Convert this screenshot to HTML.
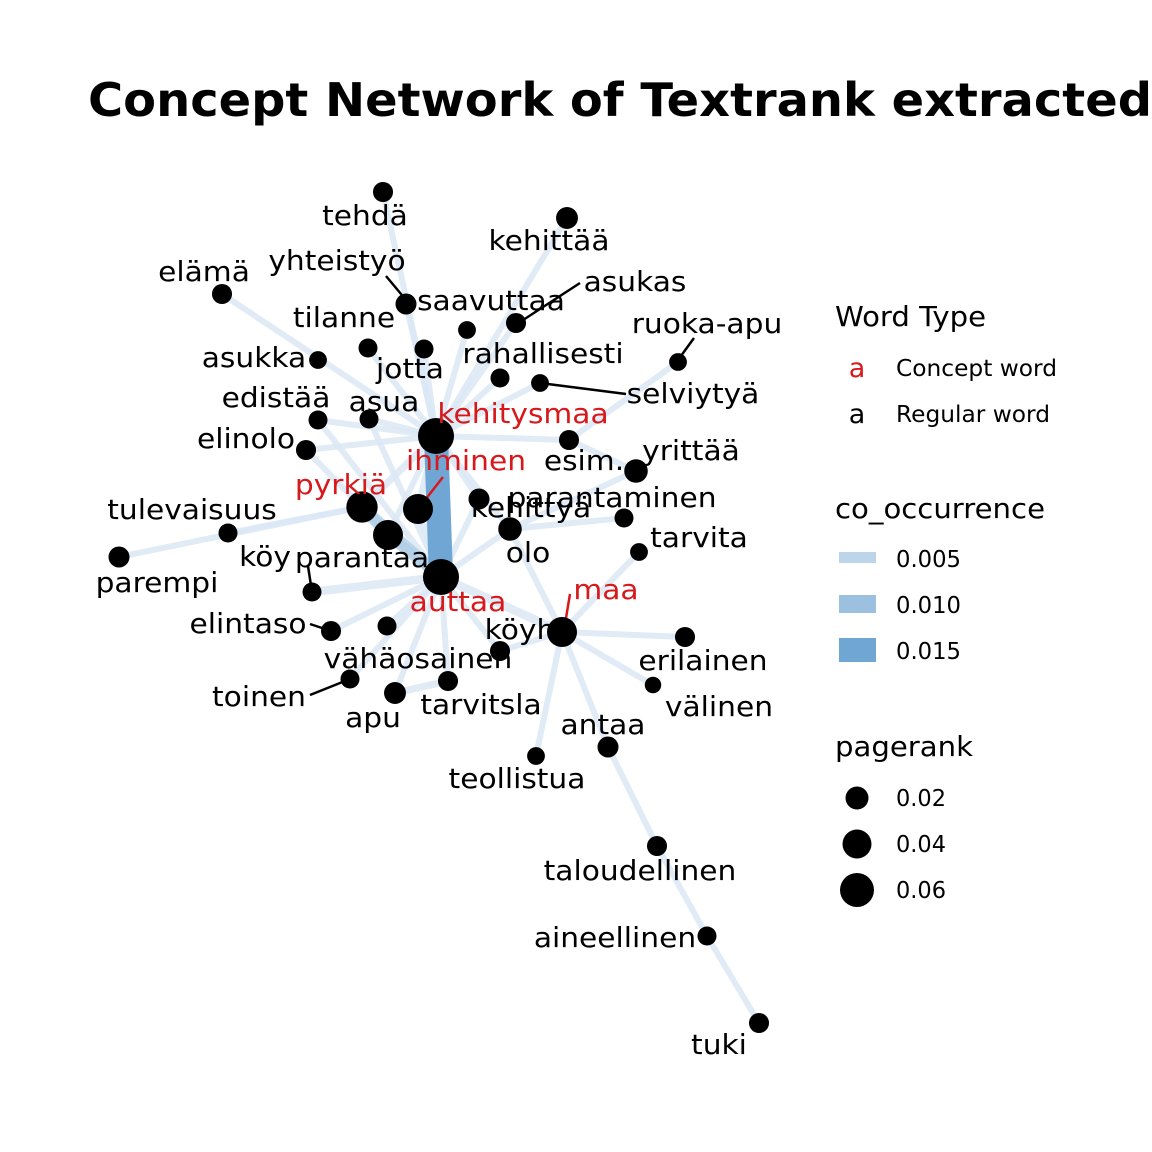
<!DOCTYPE html>
<html><head><meta charset="utf-8"><style>
html,body{margin:0;padding:0;background:#fff;}
svg{display:block;font-family:"DejaVu Sans","Liberation Sans",sans-serif;}
</style></head><body>
<svg id="chart" width="1152" height="1152" viewBox="0 0 1152 1152" xmlns="http://www.w3.org/2000/svg">
<rect width="1152" height="1152" fill="#fff"/>
<text x="88" y="116" font-size="46" font-weight="bold" textLength="1064" lengthAdjust="spacingAndGlyphs">Concept Network of Textrank extracted</text>
<g id="edges"></g>
<g id="leaders"></g>
<g id="nodes"></g>
<g id="labels"></g>
<g font-size="23">
  <text x="835" y="326" font-size="28" textLength="151" lengthAdjust="spacingAndGlyphs">Word Type</text>
  <text x="857" y="377" text-anchor="middle" font-size="27" fill="#d7191c">a</text>
  <text x="896" y="376" textLength="161" lengthAdjust="spacingAndGlyphs">Concept word</text>
  <text x="857" y="423" text-anchor="middle" font-size="27">a</text>
  <text x="896" y="422" textLength="154" lengthAdjust="spacingAndGlyphs">Regular word</text>
  <text x="835" y="518" font-size="28" textLength="210" lengthAdjust="spacingAndGlyphs">co_occurrence</text>
  <rect x="839" y="552" width="37" height="11" fill="#bcd5ea"/>
  <text x="896" y="567" textLength="65" lengthAdjust="spacingAndGlyphs">0.005</text>
  <rect x="839" y="595" width="37" height="18" fill="#9bc0e0"/>
  <text x="896" y="613" textLength="65" lengthAdjust="spacingAndGlyphs">0.010</text>
  <rect x="839" y="638" width="37" height="24" fill="#70a6d4"/>
  <text x="896" y="659" textLength="65" lengthAdjust="spacingAndGlyphs">0.015</text>
  <text x="835" y="756" font-size="28" textLength="138" lengthAdjust="spacingAndGlyphs">pagerank</text>
  <circle cx="857" cy="798" r="11.5"/>
  <text x="896" y="806" textLength="50" lengthAdjust="spacingAndGlyphs">0.02</text>
  <circle cx="857" cy="844" r="14.5"/>
  <text x="896" y="852" textLength="50" lengthAdjust="spacingAndGlyphs">0.04</text>
  <circle cx="857" cy="890" r="17"/>
  <text x="896" y="898" textLength="50" lengthAdjust="spacingAndGlyphs">0.06</text>
</g>
</svg>
<script>
const nodeNames = ["tehdä","kehittää","elämä","yhteistyö","asukas","saavuttaa","ruoka-apu","asukka","tilanne","jotta","rahallisesti","selviytyä","edistää","asua","kehitysmaa","elinolo","esim.","yrittää","ihminen","pyrkiä","kehittyä","olo","parantaminen","tarvita","tulevaisuus","parempi","köyh","parantaa","auttaa","maa","elintaso","x1","vähäosainen","erilainen","välinen","toinen","tarvitsla","apu","antaa","teollistua","taloudellinen","aineellinen","tuki"];
const nodeX = [383,567,222,406,516,467,678,318,368,424,500,540,318,369,436,306,569,636,418,362,479,510,624,639,228,119,312,388,441,562,331,387,500,685,653,350,448,395,608,536,657,707,759];
const nodeY = [192,218,294,304,323,330,362,360,348,349,378,383,420,419,436,450,440,471,509,507,499,529,518,552,533,557,592,535,577,632,631,626,651,637,685,679,681,693,747,756,846,936,1023];
const pagerank = [0.012,0.016,0.012,0.014,0.012,0.008,0.008,0.008,0.01,0.01,0.01,0.008,0.01,0.01,0.065,0.012,0.012,0.02,0.04,0.045,0.014,0.02,0.01,0.008,0.01,0.014,0.01,0.04,0.065,0.04,0.012,0.01,0.012,0.012,0.006,0.01,0.012,0.016,0.014,0.008,0.012,0.01,0.012];
const concept = ["kehitysmaa","ihminen","pyrkiä","auttaa","maa"];
const labelText = ["tehdä","kehittää","elämä","yhteistyö","asukas","saavuttaa","ruoka-apu","asukka","tilanne","jotta","rahallisesti","selviytyä","edistää","asua","kehitysmaa","elinolo","esim.","yrittää","ihminen","pyrkiä","kehittyä","olo","parantaminen","tarvita","tulevaisuus","parempi","köy","parantaa","auttaa","maa","elintaso","","vähäosainen","erilainen","välinen","toinen","tarvitsla","apu","antaa","teollistua","taloudellinen","aineellinen","tuki","köyh"];
const labelX = [365,549,204,337,635,491,707,254,344,410,543,693,276,384,523,246,584,691,466,341,531,528,612,699,192,157,265,362,458,606,248,0,418,703,719,259,481,373,603,517,640,615,719,520];
const labelY = [225,250,281,270,291,310,333,367,327,378,363,403,407,411,423,448,470,460,470,494,517,562,507,547,519,592,566,567,611,599,633,0,668,670,716,706,714,727,734,788,880,947,1054,639];
const edgeFrom = ["kehitysmaa","kehitysmaa","kehitysmaa","kehitysmaa","kehitysmaa","kehitysmaa","kehitysmaa","kehitysmaa","kehitysmaa","kehitysmaa","kehitysmaa","kehitysmaa","kehitysmaa","kehitysmaa","kehitysmaa","kehitysmaa","kehitysmaa","kehitysmaa","kehitysmaa","kehitysmaa","auttaa","auttaa","auttaa","auttaa","auttaa","auttaa","auttaa","auttaa","auttaa","auttaa","auttaa","auttaa","auttaa","maa","maa","maa","maa","maa","maa","maa","antaa","taloudellinen","aineellinen","pyrkiä","pyrkiä","pyrkiä","pyrkiä","esim.","olo","olo","apu","yrittää","edistää","asua"];
const edgeTo = ["auttaa","tehdä","kehittää","elämä","yhteistyö","saavuttaa","jotta","tilanne","rahallisesti","selviytyä","edistää","asua","elinolo","esim.","pyrkiä","ihminen","kehittyä","olo","parantaa","asukas","pyrkiä","parantaa","ihminen","köyh","elintaso","x1","apu","tarvitsla","vähäosainen","maa","olo","kehittyä","toinen","olo","erilainen","välinen","teollistua","antaa","tarvita","vähäosainen","taloudellinen","aineellinen","tuki","tulevaisuus","parempi","elinolo","parantaa","ruoka-apu","parantaminen","yrittää","tarvitsla","esim.","auttaa","auttaa"];
const cooc = [0.017,0.004,0.004,0.004,0.004,0.004,0.004,0.004,0.004,0.004,0.004,0.004,0.004,0.004,0.005,0.005,0.004,0.004,0.004,0.004,0.008,0.008,0.005,0.006,0.004,0.004,0.004,0.004,0.004,0.006,0.004,0.004,0.004,0.004,0.004,0.004,0.004,0.004,0.004,0.004,0.004,0.004,0.004,0.004,0.004,0.004,0.008,0.004,0.004,0.004,0.005,0.004,0.004,0.004];

const NS = "http://www.w3.org/2000/svg";
const idx = n => nodeNames.indexOf(n);
const widthScale = v => v >= 0.013 ? 2 + v * 1300 : 1 + v * 1250;
const colorScale = v => v >= 0.013 ? "#70a6d4" : v >= 0.007 ? "#b3cfe8" : "#dae8f4";
const radiusScale = p => 4 + Math.sqrt(p) * 55;
const gE = document.getElementById("edges");
const order = cooc.map((v, i) => i).sort((a, b) => cooc[a] - cooc[b]);
for (const i of order) {
  const a = idx(edgeFrom[i]), b = idx(edgeTo[i]);
  const l = document.createElementNS(NS, "line");
  l.setAttribute("x1", nodeX[a]); l.setAttribute("y1", nodeY[a]);
  l.setAttribute("x2", nodeX[b]); l.setAttribute("y2", nodeY[b]);
  l.setAttribute("stroke", colorScale(cooc[i]));
  l.setAttribute("stroke-opacity", cooc[i] >= 0.013 ? 1 : 0.85);
  l.setAttribute("stroke-width", widthScale(cooc[i]));
  
  
  gE.appendChild(l);
}
const leaderFromX = [386,580,694,540,443,308,310,310,570];
const leaderFromY = [276,283,338,383,477,566,624,695,594];
const leaderNode = ["yhteistyö","asukas","ruoka-apu","selviytyä","ihminen","köyh","elintaso","toinen","maa"];
const labX2 = [406,520,678,626,418,312,331,350,564];
const labY2 = [300,322,360,394,509,592,631,679,630];
const gL = document.getElementById("leaders");
for (let i = 0; i < leaderFromX.length; i++) {
  const l = document.createElementNS(NS, "line");
  l.setAttribute("x1", leaderFromX[i]); l.setAttribute("y1", leaderFromY[i]);
  l.setAttribute("x2", labX2[i]); l.setAttribute("y2", labY2[i]);
  const red = concept.includes(leaderNode[i]);
  l.setAttribute("stroke", red ? "#d7191c" : "#000");
  l.setAttribute("stroke-width", 2.5);
  
  
  gL.appendChild(l);
}
const gN = document.getElementById("nodes");
for (let i = 0; i < nodeNames.length; i++) {
  const c = document.createElementNS(NS, "circle");
  c.setAttribute("cx", nodeX[i]); c.setAttribute("cy", nodeY[i]);
  c.setAttribute("r", radiusScale(pagerank[i]));
  c.setAttribute("fill", "#000");
  
  
  gN.appendChild(c);
}
const gT = document.getElementById("labels");
for (let i = 0; i < labelText.length; i++) {
  if (!labelText[i]) continue;
  const t = document.createElementNS(NS, "text");
  t.setAttribute("x", labelX[i]); t.setAttribute("y", labelY[i]);
  t.setAttribute("text-anchor", "middle");
  t.setAttribute("font-size", "28");
  t.setAttribute("transform", "translate(" + labelX[i] + ",0) scale(1.06,1) translate(" + (-labelX[i]) + ",0)");
  t.setAttribute("fill", concept.includes(labelText[i]) ? "#d7191c" : "#000");
  t.textContent = labelText[i];
  
  
  gT.appendChild(t);
}
</script>
</body></html>
